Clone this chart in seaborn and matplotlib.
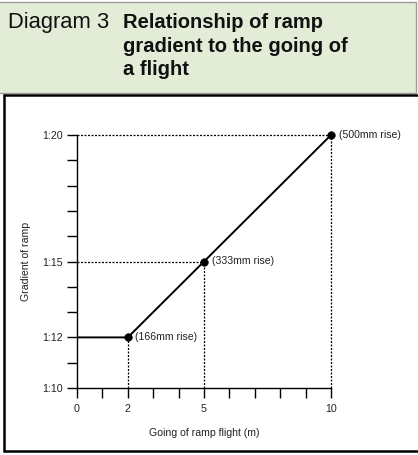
import matplotlib
matplotlib.use("Agg")
import matplotlib.pyplot as plt
from matplotlib.patches import Rectangle
from matplotlib.lines import Line2D
import pandas as pd
import seaborn as sns

# data
going = [0, 2, 5, 10]
gradient = [12, 12, 15, 20]
point_going = [2, 5, 10]
point_gradient = [12, 15, 20]
rise_labels = ["(166mm rise)", "(333mm rise)", "(500mm rise)"]

x_ticks = list(range(0, 11))
x_tick_labels = ["0", "", "2", "", "", "5", "", "", "", "", "10"]
y_ticks = list(range(10, 21))
y_tick_labels = ["1:10", "", "1:12", "", "", "1:15", "", "", "", "", "1:20"]

title_number = "Diagram 3"
title_lines = ["Relationship of ramp", "gradient to the going of", "a flight"]

sns.set_theme(style="white")
plt.rcParams["font.family"] = ["Liberation Sans", "DejaVu Sans"]

W, H = 418, 455
fig = plt.figure(figsize=(W / 100, H / 100), dpi=100)

# header band
fig.patches.append(Rectangle((-0.01, 1 - 93 / H), 1 + 0.01 - 2 / W, 91 / H,
                             transform=fig.transFigure, facecolor="#e3ecd6",
                             edgecolor="#9a9a9a", linewidth=1.0, zorder=0))
fig.text(8 / W, 1 - 28 / H, title_number, fontsize=15.8, color="#111111", va="baseline")
for i, line in enumerate(title_lines):
    fig.text(123 / W, 1 - (28 + 23.5 * i) / H, line, fontsize=14.5, fontweight="bold",
             color="#111111", va="baseline")

# frame around the chart (right side is cut off in the reference)
for xs, ys in [([4 / W, 1], [1 - 95 / H] * 2),
               ([4 / W, 1], [1 - 451 / H] * 2),
               ([4 / W] * 2, [1 - 95 / H, 1 - 451 / H])]:
    fig.lines.append(Line2D(xs, ys, transform=fig.transFigure, color="black", linewidth=1.8))

ax = fig.add_axes([77 / W, 1 - 388 / H, 254 / W, 253 / H])

df = pd.DataFrame({"going": going, "gradient": gradient})
pts = pd.DataFrame({"going": point_going, "gradient": point_gradient})

# dotted guide lines from each point back to the axes
dots = (0, (1.6, 1.2))
for gx, gy in zip(point_going, point_gradient):
    ax.plot([gx, gx], [10, gy], color="black", linestyle=dots, linewidth=0.9, clip_on=False)
    if gy > 12:
        ax.plot([0, gx], [gy, gy], color="black", linestyle=dots, linewidth=0.9, clip_on=False)

sns.lineplot(data=df, x="going", y="gradient", ax=ax, color="black", linewidth=1.4,
             estimator=None, sort=False)
sns.scatterplot(data=pts, x="going", y="gradient", ax=ax, color="black", s=30,
                edgecolor="black", zorder=5, clip_on=False)

for gx, gy, lab in zip(point_going, point_gradient, rise_labels):
    ax.annotate(lab, (gx, gy), xytext=(5.5, 0), textcoords="offset points",
                fontsize=7.6, va="center", ha="left", color="#222222")

ax.set_xlim(0, 10)
ax.set_ylim(10, 20)
ax.set_xticks(x_ticks)
ax.set_xticklabels(x_tick_labels)
ax.set_yticks(y_ticks)
ax.set_yticklabels(y_tick_labels)
ax.tick_params(axis="both", direction="out", length=7, width=1, color="black",
               labelsize=7.7, labelcolor="#222222", bottom=True, left=True)
ax.tick_params(axis="x", pad=4.5)
ax.tick_params(axis="y", pad=3)

for side in ["top", "right"]:
    ax.spines[side].set_visible(False)
for side in ["left", "bottom"]:
    ax.spines[side].set_color("black")
    ax.spines[side].set_linewidth(1.0)

ax.set_xlabel("Going of ramp flight (m)", fontsize=7.6, color="#222222")
ax.set_ylabel("Gradient of ramp", fontsize=7.6, color="#222222")
ax.xaxis.set_label_coords(0.5, -0.16)
ax.yaxis.set_label_coords(-0.183, 0.5)
ax.set_facecolor("white")

fig.savefig("out.png", dpi=100)
